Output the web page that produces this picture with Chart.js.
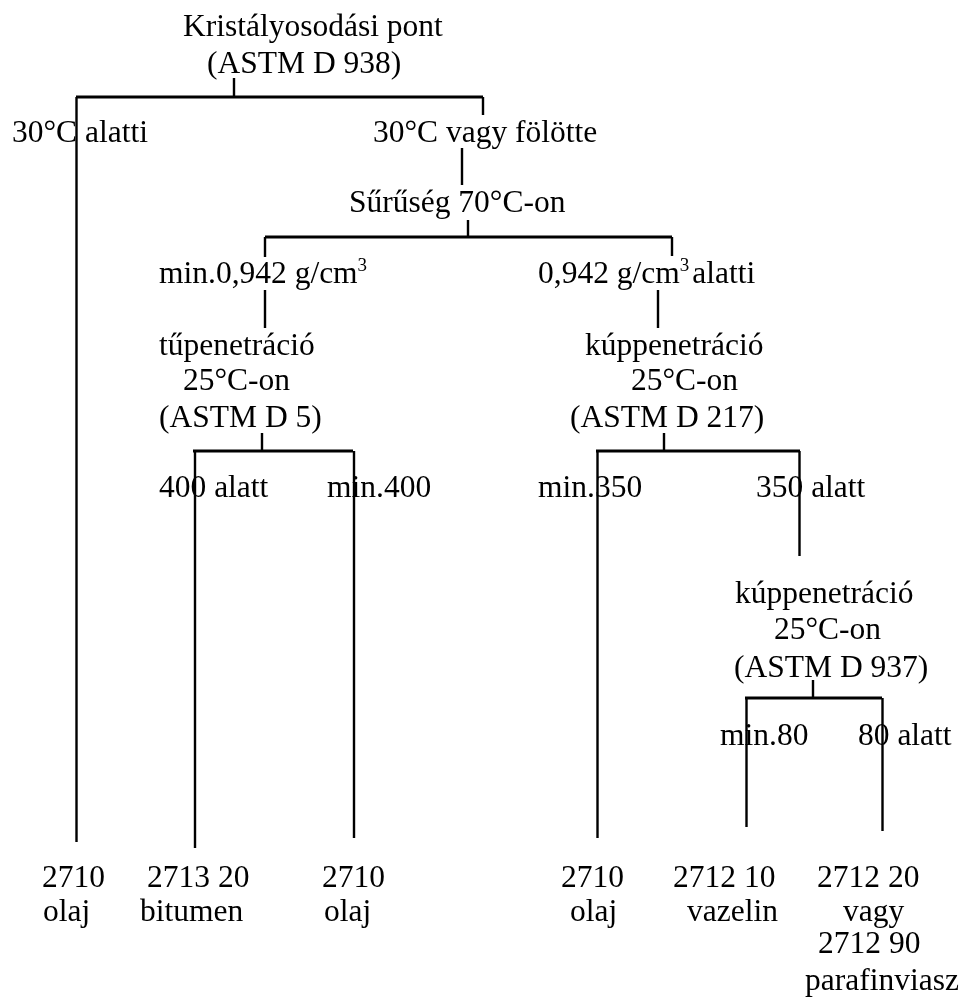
<!DOCTYPE html>
<html>
<head>
<meta charset="utf-8">
<title>Kristályosodási pont</title>
<script src="https://cdn.jsdelivr.net/npm/chart.js@4/dist/chart.umd.min.js"></script>
<style>
  html, body { margin: 0; padding: 0; background: #fff; }
  #wrap { width: 959px; height: 997px; }
</style>
</head>
<body>
<div id="wrap"><canvas id="tree" width="959" height="997"></canvas></div>
<script>
// decision tree, in the picture's own units (x right, y down)
const labelText = [
    'Kristályosodási pont', '(ASTM D 938)',
    '30°C alatti', '30°C vagy fölötte',
    'Sűrűség 70°C-on',
    'min.0,942 g/cm³', '0,942 g/cm³alatti',
    'tűpenetráció', '25°C-on', '(ASTM D 5)',
    'kúppenetráció', '25°C-on', '(ASTM D 217)',
    '400 alatt', 'min.400', 'min.350', '350 alatt',
    'kúppenetráció', '25°C-on', '(ASTM D 937)',
    'min.80', '80 alatt',
    '2710', 'olaj',
    '2713 20', 'bitumen',
    '2710', 'olaj',
    '2710', 'olaj',
    '2712 10', 'vazelin',
    '2712 20', 'vagy', '2712 90', 'parafinviasz'
];
const labelX = [
    183, 207,
    12, 373,
    349,
    159, 538,
    159, 183, 159,
    585, 631, 570,
    159, 327, 538, 756,
    735, 774, 734,
    720, 858,
    42, 43,
    147, 140,
    322, 324,
    561, 570,
    673, 687,
    817, 843, 818, 805
];
const labelY = [
    36, 73,
    142, 142,
    212,
    283, 283,
    355, 390, 427,
    355, 390, 427,
    497, 497, 497, 497,
    603, 639, 677,
    745, 745,
    887, 921,
    887, 921,
    887, 921,
    887, 921,
    887, 921,
    887, 921, 953, 990
];

// connector lines: [x1, y1, x2, y2]
const links = [
    [234, 78, 234, 97],
    [76, 97, 483, 97],
    [76.5, 97, 76.5, 842],
    [483, 97, 483, 115],
    [462, 148, 462, 185],
    [468, 220, 468, 237],
    [265, 237, 672, 237],
    [265, 237, 265, 257],
    [672, 237, 672, 256],
    [265, 290, 265, 328],
    [658, 290, 658, 328],
    [262, 433, 262, 451],
    [193, 451, 353, 451],
    [195, 451, 195, 848],
    [354, 451, 354, 838],
    [664, 433, 664, 451],
    [596, 451, 800, 451],
    [597.5, 451, 597.5, 838],
    [799.5, 451, 799.5, 556],
    [813, 680, 813, 698],
    [745, 698, 882, 698],
    [746.5, 698, 746.5, 827],
    [882.5, 698, 882.5, 831]
];

const FONT = '"Liberation Serif", "Times New Roman", serif';

// draws a label, the ³ as a small raised figure
function drawLabel(ctx, text, x, y) {
    const parts = text.split('³');
    let cx = x;
    parts.forEach((p, i) => {
        ctx.font = '31.5px ' + FONT;
        ctx.fillText(p, cx, y);
        cx += ctx.measureText(p).width;
        if (i < parts.length - 1) {
            ctx.font = '19px ' + FONT;
            ctx.fillText('3', cx, y - 12);
            cx += ctx.measureText('3').width + 3;
        }
    });
}

const textPlugin = {
    id: 'treeText',
    afterDatasetsDraw(chart) {
        const ctx = chart.ctx;
        const xs = chart.scales.x;
        const ys = chart.scales.y;
        ctx.save();
        ctx.fillStyle = '#000';
        ctx.textAlign = 'left';
        ctx.textBaseline = 'alphabetic';
        labelText.forEach((t, i) => {
            drawLabel(ctx, t, xs.getPixelForValue(labelX[i]), ys.getPixelForValue(labelY[i]));
        });
        ctx.restore();
    }
};

const datasets = links.map(l => ({
    data: [{ x: l[0], y: l[1] }, { x: l[2], y: l[3] }],
    showLine: true,
    borderColor: '#000',
    borderWidth: l[1] === l[3] ? 2.8 : 2.4,
    pointRadius: 0,
    pointHoverRadius: 0,
    fill: false
}));

new Chart(document.getElementById('tree'), {
    type: 'scatter',
    data: { datasets },
    options: {
        responsive: false,
        animation: false,
        layout: { padding: 0 },
        plugins: {
            legend: { display: false },
            tooltip: { enabled: false }
        },
        scales: {
            x: { type: 'linear', min: 0, max: 959, display: false },
            y: { type: 'linear', min: 0, max: 997, reverse: true, display: false }
        }
    },
    plugins: [textPlugin]
});
</script>
</body>
</html>
